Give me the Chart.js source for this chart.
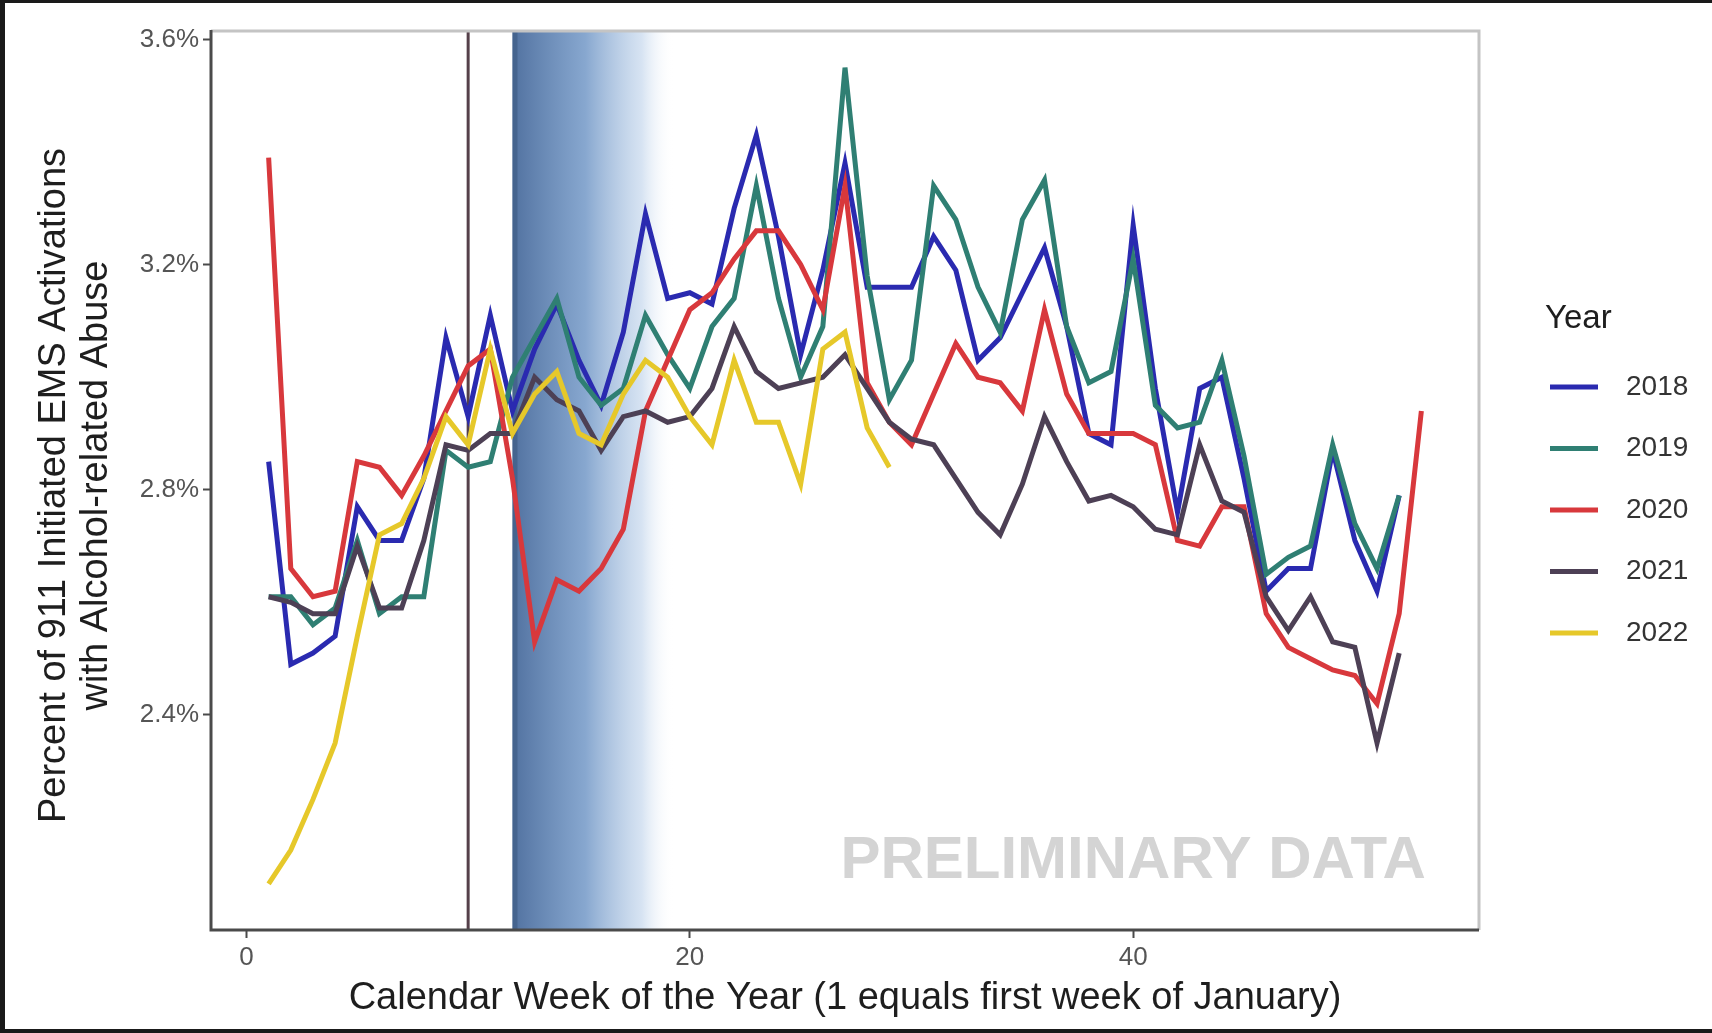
<!DOCTYPE html>
<html>
<head>
<meta charset="utf-8">
<script src="https://cdn.jsdelivr.net/npm/chart.js@4.4.1/dist/chart.umd.min.js"></script>
<style>
  html, body { margin: 0; padding: 0; background: #fff; }
  #chart { display: block; }
</style>
</head>
<body>
<canvas id="chart" width="1712" height="1033"></canvas>
<script>
// data (percent, week 1 = first week of January)
const yearLabels = ['2018', '2019', '2020', '2021', '2022'];
const lineColors = ['#2a2ab0', '#2f7f73', '#d8383c', '#4d4055', '#e6c82a'];

const y2018 = [2.85, 2.49, 2.51, 2.54, 2.77, 2.71, 2.71, 2.82, 3.07, 2.93, 3.11, 2.94, 3.05, 3.13, 3.03, 2.95, 3.08, 3.29, 3.14, 3.15,
  3.13, 3.30, 3.43, 3.25, 3.04, 3.19, 3.38, 3.16, 3.16, 3.16, 3.25, 3.19, 3.03, 3.07, 3.15, 3.23, 3.09, 2.90, 2.88, 3.27,
  2.98, 2.76, 2.98, 3.00, 2.82, 2.62, 2.66, 2.66, 2.87, 2.71, 2.62, 2.79];
const y2019 = [2.61, 2.61, 2.56, 2.59, 2.71, 2.58, 2.61, 2.61, 2.87, 2.84, 2.85, 3.00, 3.07, 3.14, 3.00, 2.95, 2.98, 3.11, 3.04, 2.98,
  3.09, 3.14, 3.34, 3.14, 3.00, 3.09, 3.55, 3.18, 2.96, 3.03, 3.34, 3.28, 3.16, 3.08, 3.28, 3.35, 3.09, 2.99, 3.01, 3.21,
  2.95, 2.91, 2.92, 3.03, 2.86, 2.65, 2.68, 2.70, 2.88, 2.74, 2.66, 2.79];
const y2020 = [3.39, 2.66, 2.61, 2.62, 2.85, 2.84, 2.79, 2.86, 2.94, 3.02, 3.05, 2.82, 2.53, 2.64, 2.62, 2.66, 2.73, 2.94, 3.03, 3.12,
  3.15, 3.21, 3.26, 3.26, 3.20, 3.12, 3.34, 2.99, 2.92, 2.88, 2.97, 3.06, 3.00, 2.99, 2.94, 3.12, 2.97, 2.90, 2.90, 2.90,
  2.88, 2.71, 2.70, 2.77, 2.77, 2.58, 2.52, 2.50, 2.48, 2.47, 2.42, 2.58, 2.94];
const y2021 = [2.61, 2.60, 2.58, 2.58, 2.70, 2.59, 2.59, 2.71, 2.88, 2.87, 2.90, 2.90, 3.00, 2.96, 2.94, 2.87, 2.93, 2.94, 2.92, 2.93,
  2.98, 3.09, 3.01, 2.98, 2.99, 3.00, 3.04, 2.98, 2.92, 2.89, 2.88, 2.82, 2.76, 2.72, 2.81, 2.93, 2.85, 2.78, 2.79, 2.77,
  2.73, 2.72, 2.88, 2.78, 2.76, 2.61, 2.55, 2.61, 2.53, 2.52, 2.35, 2.51];
const y2022 = [2.10, 2.16, 2.25, 2.35, 2.54, 2.72, 2.74, 2.82, 2.93, 2.88, 3.05, 2.90, 2.97, 3.01, 2.90, 2.88, 2.97, 3.03, 3.00, 2.93,
  2.88, 3.03, 2.92, 2.92, 2.81, 3.05, 3.08, 2.91, 2.84];
const seriesValues = [y2018, y2019, y2020, y2021, y2022];

const xTicks = [0, 20, 40];
const yTicks = [2.4, 2.8, 3.2, 3.6];
const markerWeek = 10;                  // vertical line
const shadeStart = 12, shadeEnd = 19.3; // blue gradient band

const FONT = '"Liberation Sans", Arial, sans-serif';

// fond, bande bleue et ligne verticale (sous les courbes)
const underlay = {
  id: 'underlay',
  beforeDraw(chart) {
    const c = chart.ctx;
    c.save();
    c.fillStyle = '#fff';
    c.fillRect(0, 0, chart.width, chart.height);
    c.restore();
  },
  beforeDatasetsDraw(chart) {
    const c = chart.ctx, a = chart.chartArea, x = chart.scales.x;
    const x1 = x.getPixelForValue(shadeStart), x2 = x.getPixelForValue(shadeEnd);
    c.save();
    const g = c.createLinearGradient(x1, 0, x2, 0);
    g.addColorStop(0, 'rgba(72,106,155,0.95)');
    g.addColorStop(0.45, 'rgba(105,145,195,0.8)');
    g.addColorStop(0.8, 'rgba(175,200,230,0.5)');
    g.addColorStop(1, 'rgba(255,255,255,0)');
    c.fillStyle = g;
    c.fillRect(x1, a.top, x2 - x1, a.bottom - a.top);
    c.fillStyle = 'rgba(60,90,130,0.6)';
    c.fillRect(x1, a.top, 5, a.bottom - a.top);

    const vx = x.getPixelForValue(markerWeek);
    c.strokeStyle = '#55404a';
    c.lineWidth = 3;
    c.beginPath();
    c.moveTo(vx, a.top);
    c.lineTo(vx, a.bottom);
    c.stroke();

    // watermark
    c.fillStyle = '#d4d4d4';
    c.font = 'bold 60px ' + FONT;
    c.textAlign = 'center';
    c.textBaseline = 'middle';
    c.fillText('PRELIMINARY DATA', x.getPixelForValue(40), 861);
    c.restore();
  }
};

// cadre, titres d'axes, légende
const overlay = {
  id: 'overlay',
  afterDraw(chart) {
    const c = chart.ctx, a = chart.chartArea;
    c.save();
    // panel border
    c.strokeStyle = '#c4c4c4';
    c.lineWidth = 3;
    c.beginPath();
    c.moveTo(a.left, a.top);
    c.lineTo(a.right, a.top);
    c.lineTo(a.right, a.bottom);
    c.stroke();
    c.strokeStyle = '#4a4a4a';
    c.beginPath();
    c.moveTo(a.left, a.top - 1);
    c.lineTo(a.left, a.bottom);
    c.lineTo(a.right, a.bottom);
    c.stroke();

    // axis titles
    c.fillStyle = '#1e1e1e';
    c.font = '38px ' + FONT;
    c.textAlign = 'center';
    c.textBaseline = 'middle';
    c.fillText('Calendar Week of the Year (1 equals first week of January)', (a.left + a.right) / 2, 999);
    c.translate(0, (a.top + a.bottom) / 2 + 5);
    c.rotate(-Math.PI / 2);
    c.fillText('Percent of 911 Initiated EMS Activations', 0, 55);
    c.fillText('with Alcohol-related Abuse', 0, 97);
    c.setTransform(1, 0, 0, 1, 0, 0);

    // legend
    c.textAlign = 'left';
    c.font = '33px ' + FONT;
    c.fillStyle = '#1e1e1e';
    c.fillText('Year', 1545, 319);
    c.font = '28px ' + FONT;
    yearLabels.forEach((lab, i) => {
      const y = 387 + i * 61.5;
      c.strokeStyle = lineColors[i];
      c.lineWidth = 5;
      c.beginPath();
      c.moveTo(1550, y);
      c.lineTo(1598, y);
      c.stroke();
      c.fillStyle = '#333';
      c.fillText(lab, 1626, y);
    });

    // outer frame of the picture
    c.fillStyle = '#1a1a1a';
    c.fillRect(0, 0, 5, chart.height);
    c.fillRect(0, 0, chart.width, 3);
    c.fillRect(0, chart.height - 4, chart.width, 4);
    c.restore();
  }
};

new Chart(document.getElementById('chart'), {
  type: 'line',
  data: {
    datasets: yearLabels.map((lab, i) => ({
      label: lab,
      data: seriesValues[i].map((v, k) => ({ x: k + 1, y: v })),
      borderColor: lineColors[i],
      borderWidth: 5,
      pointRadius: 0,
      tension: 0,
      order: yearLabels.length - i
    }))
  },
  options: {
    responsive: false,
    animation: false,
    devicePixelRatio: 1,
    layout: { padding: { top: 31, right: 233, bottom: 0, left: 0 }, autoPadding: false },
    plugins: { legend: { display: false }, tooltip: { enabled: false } },
    scales: {
      x: {
        type: 'linear',
        min: -1.6,
        max: 55.6,
        afterBuildTicks: s => { s.ticks = xTicks.map(v => ({ value: v })); },
        afterFit: s => { s.height = 103; },
        border: { display: false },
        grid: { drawOnChartArea: false, tickLength: 8, tickWidth: 2, tickColor: '#4a4a4a' },
        ticks: { font: { size: 26, family: FONT }, color: '#555', padding: 4, maxRotation: 0 }
      },
      y: {
        min: 2.018,
        max: 3.615,
        afterBuildTicks: s => { s.ticks = yTicks.map(v => ({ value: v })); },
        afterFit: s => { s.width = 211; },
        border: { display: false },
        grid: { drawOnChartArea: false, tickLength: 8, tickWidth: 2, tickColor: '#4a4a4a' },
        ticks: { font: { size: 26, family: FONT }, color: '#555', padding: 4, callback: v => v.toFixed(1) + '%' }
      }
    }
  },
  plugins: [underlay, overlay]
});
</script>
</body>
</html>
